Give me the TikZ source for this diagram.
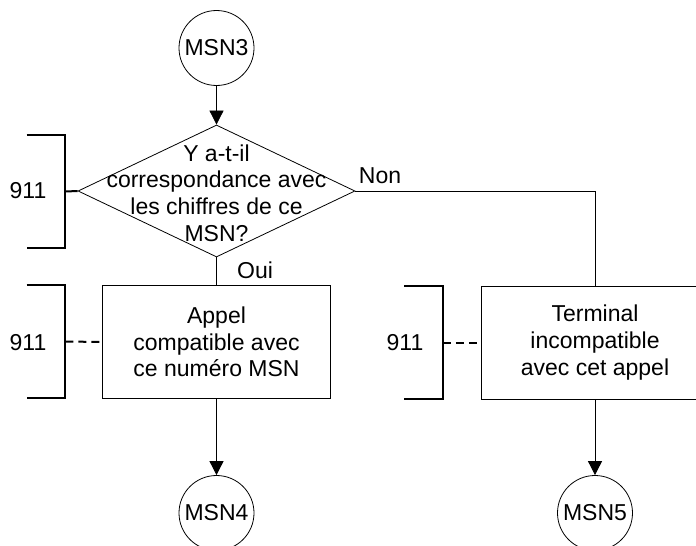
\documentclass[tikz,border=0pt]{standalone}
\usepackage{fontspec}
\setmainfont{Liberation Sans}
\usetikzlibrary{calc, arrows.meta, positioning, shapes.geometric}

\begin{document}
\begin{tikzpicture}[auto, >={Triangle[length=7pt, width=7pt]}, x=0.5pt, y=-0.5pt, font=\fontsize{11.5}{13.3}\selectfont]
		\tikzstyle{round} = [draw=black, circle, inner sep=0pt, minimum size=37.5pt]
		\tikzstyle{decision} = [draw=black, diamond, inner sep=0pt, minimum width=138.5pt, minimum height=66pt]
		\tikzstyle{task} = [draw=black, rectangle, align=center, minimum width=114pt, minimum height=56.5pt]
		\tikzstyle{bracket} = [draw=none, rectangle, inner sep=0pt, minimum width=19pt, minimum height=56.5pt]
		\tikzstyle{invis} = [draw=none, align=center, inner sep=0pt]
		\tikzstyle{brk} = [line width=1pt]
		
		\useasboundingbox (0,0) rectangle (696,546);
		\clip (0,0) rectangle (696,546);
		
		\node[round]		at (216.5, 48)		(msn3)		{MSN3};
		\node[decision]		at (216.5, 191)		(corr)		{};
		\node[invis]		at (216.5, 193)		(corrtxt)	{Y a-t-il\\correspondance avec\\les chiffres de ce\\MSN?};
		\node[task]			at (216.5, 342)		(appel)		{Appel\\compatible avec\\ce numéro MSN};
		\node[task]			at (595, 342.5)		(terminal)	{Terminal\\incompatible\\avec cet appel};
		\node[round]		at (216.5, 513)		(msn4)		{MSN4};
		\node[round]		at (595, 513)		(msn5)		{MSN5};
		
		\node[bracket]		at (46, 191.5)		(br1)		{};
		\node[bracket]		at (46, 341.5)		(br2)		{};
		\node[bracket]		at (423.5, 342.5)	(br3)		{};
		\node[invis]		at (28, 191)		(ref1)		{911};
		\node[invis]		at (28, 343)		(ref2)		{911};
		\node[invis]		at (405, 343)		(ref3)		{911};
		
		\node[invis]		at (255, 270)		(oui)		{Oui};
		\node[invis]		at (380, 176)		(non)		{Non};
		
		\path[->]
		(msn3)		edge	(corr)
		(appel)		edge	(msn4)
		(terminal)	edge	(msn5);
		
		\draw (corr.south) -- (appel.north);
		\draw (corr.east) -| (terminal.north);
		
		\foreach \b in {br1, br2, br3}
			\draw[brk] (\b.north west) -- (\b.north east) -- (\b.south east) -- (\b.south west);
		
		\draw[brk] (br1.east) -- (corr.west);
		\draw[brk, dash pattern=on 4pt off 2.5pt] (br2.east) -- (appel.west);
		\draw[brk, dash pattern=on 4pt off 2.5pt] (br3.east) -- (terminal.west);
		\end{tikzpicture}
\end{document}
